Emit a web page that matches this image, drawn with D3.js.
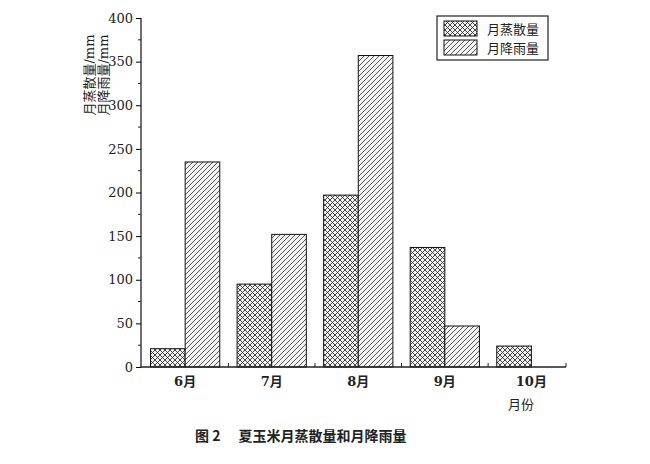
<!DOCTYPE html>
<html><head><meta charset="utf-8">
<script src="https://cdn.jsdelivr.net/npm/d3@7"></script>
<style>body{margin:0;background:#fff}svg{display:block}</style>
</head><body>
<svg id="c" width="650" height="464"></svg>
<script>
const months = [6, 7, 8, 9, 10];
const monthLabels = ["6月", "7月", "8月", "9月", "10月"];
const evapotranspiration = [21, 95, 197, 137, 24];
const rainfall = [235, 152, 357, 47, null];
const yTicks = [0, 50, 100, 150, 200, 250, 300, 350, 400];
const seriesNames = ["月蒸散量", "月降雨量"];

const svg = d3.select("#c");
const defs = svg.append("defs");
const cross = defs.append("pattern").attr("id","cross").attr("patternUnits","userSpaceOnUse").attr("width",5).attr("height",5);
cross.append("rect").attr("width",5).attr("height",5).attr("fill","#f2f2f2");
cross.append("path").attr("d","M0,0L5,5M5,0L0,5M-1,4L1,6M4,-1L6,1M-1,1L1,-1M4,6L6,4").attr("stroke","#333").attr("stroke-width",0.9);
const hatch = defs.append("pattern").attr("id","hatch").attr("patternUnits","userSpaceOnUse").attr("width",5).attr("height",5);
hatch.append("rect").attr("width",5).attr("height",5).attr("fill","#f4f4f4");
hatch.append("path").attr("d","M0,5L5,0M-1,1L1,-1M4,6L6,4").attr("stroke","#444").attr("stroke-width",0.9);

const x = d3.scaleLinear().domain([5.49, 10.4]).range([141, 566]);
const y = d3.scaleLinear().domain([0, 400]).range([367, 18]);
const bw = x(6) - x(5.6);

const serif = "'DejaVu Serif', 'Liberation Serif', serif";
const cjk = "'Noto Sans CJK SC', sans-serif";

// bars
const g = svg.append("g");
months.forEach((m, i) => {
  if (evapotranspiration[i] != null)
    g.append("rect").attr("x", x(m) - bw).attr("width", bw).attr("y", y(evapotranspiration[i])).attr("height", y(0) - y(evapotranspiration[i]))
      .attr("fill","url(#cross)").attr("stroke","#111").attr("stroke-width",1);
  if (rainfall[i] != null)
    g.append("rect").attr("x", x(m)).attr("width", bw).attr("y", y(rainfall[i])).attr("height", y(0) - y(rainfall[i]))
      .attr("fill","url(#hatch)").attr("stroke","#111").attr("stroke-width",1);
});

// y axis
const yAxis = d3.axisLeft(y).tickValues(yTicks).tickSize(5).tickPadding(3);
const ya = svg.append("g").attr("transform","translate(141,0)").call(yAxis);
ya.attr("font-family", serif);
ya.select(".domain").attr("stroke","#222").attr("stroke-width",1.3).attr("d","M0,18V367");
ya.selectAll("text").attr("font-family", serif).attr("font-size", 13).attr("fill","#222");
const minor = d3.range(25, 400, 50);
ya.selectAll(".minor").data(minor).enter().append("line").attr("class","minor")
  .attr("x1",0).attr("x2",-3).attr("y1",d=>y(d)).attr("y2",d=>y(d)).attr("stroke","#222");

// x axis
const xa = svg.append("g");
xa.append("line").attr("x1",141).attr("x2",566).attr("y1",367).attr("y2",367).attr("stroke","#222").attr("stroke-width",1.5);
[6.5,7.5,8.5,9.5,10.4].forEach(v => xa.append("line").attr("x1",x(v)).attr("x2",x(v)).attr("y1",367).attr("y2",363).attr("stroke","#222"));
months.forEach((m,i) => xa.append("text").attr("x", x(m)).attr("y", 386).attr("text-anchor","middle")
  .attr("font-family", serif).attr("font-size", 13).attr("font-weight","bold").attr("fill","#222")
  .call(t => { t.append("tspan").text(monthLabels[i].replace("月","")); t.append("tspan").attr("font-family",cjk).text("月"); }));
svg.append("text").attr("x",521).attr("y",409).attr("text-anchor","middle").attr("font-family",cjk).attr("font-size",13).attr("fill","#222").text("月份");

// y label (two lines in one text)
const yl = svg.append("text").attr("transform","translate(94,75) rotate(-90)").attr("text-anchor","middle").attr("font-size",13).attr("fill","#222");
const l1 = yl.append("tspan").attr("x",0).attr("y",0);
l1.append("tspan").attr("font-family",cjk).text("月蒸散量");
l1.append("tspan").attr("font-family",serif).text("/mm");
const l2 = yl.append("tspan").attr("x",0).attr("y",14);
l2.append("tspan").attr("font-family",cjk).text("月降雨量");
l2.append("tspan").attr("font-family",serif).text("/mm");

// legend
const lg = svg.append("g");
lg.append("rect").attr("x",437).attr("y",16).attr("width",111).attr("height",44).attr("fill","#fff").attr("stroke","#222").attr("stroke-width",1.2);
["url(#cross)","url(#hatch)"].forEach((f,i) => {
  lg.append("rect").attr("x",444).attr("y",21+i*19).attr("width",33).attr("height",15).attr("fill",f).attr("stroke","#111");
  lg.append("text").attr("x",487).attr("y",34+i*19).attr("font-family",cjk).attr("font-size",13).attr("fill","#222").text(seriesNames[i]);
});

// caption
const cap = svg.append("text").attr("x",195).attr("y",441).attr("font-family",cjk).attr("font-size",14).attr("font-weight","bold").attr("fill","#222");
cap.append("tspan").text("图 2");
cap.append("tspan").attr("dx",18).text("夏玉米月蒸散量和月降雨量");
</script>
</body></html>
